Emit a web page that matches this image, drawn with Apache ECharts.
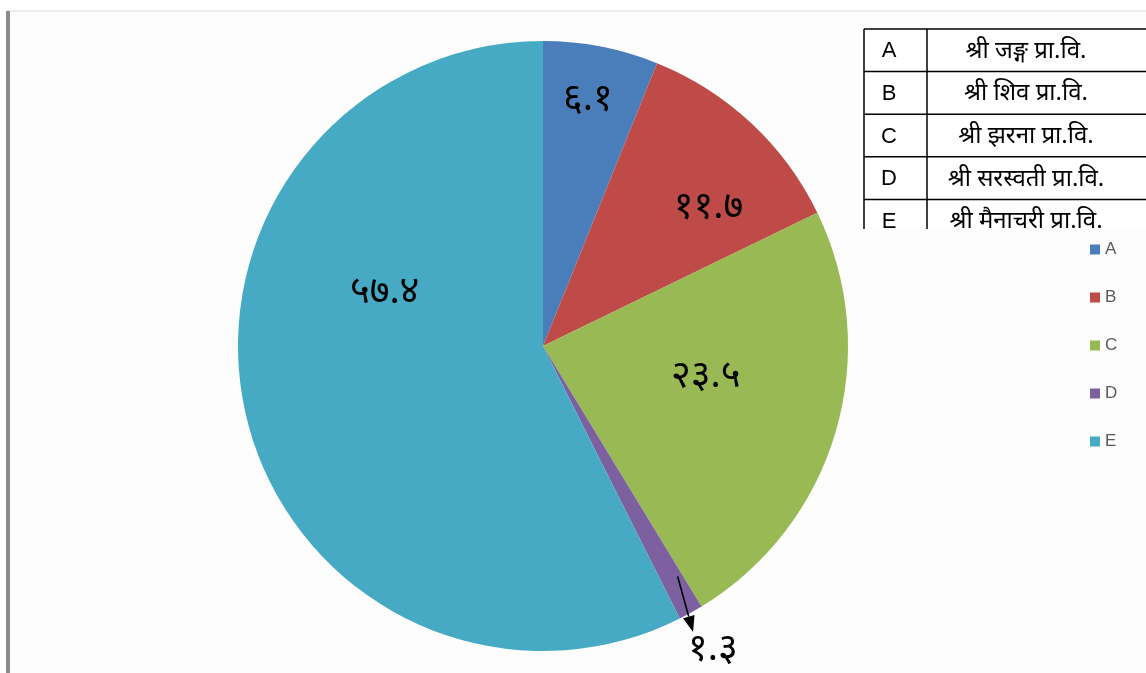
<!DOCTYPE html>
<html>
<head>
<meta charset="utf-8">
<script src="https://cdn.jsdelivr.net/npm/echarts@6/dist/echarts.min.js"></script>
<style>
html,body{margin:0;padding:0;background:#ffffff;}
#chart{width:1146px;height:673px;}
</style>
</head>
<body>
<div id="chart"></div>
<script>
// ---- data ----
var categories = ['A', 'B', 'C', 'D', 'E'];
var values = [6.1, 11.7, 23.5, 1.3, 57.4];
var schoolNames = ['श्री जङ्ग प्रा.वि.', 'श्री शिव प्रा.वि.', 'श्री झरना प्रा.वि.', 'श्री सरस्वती प्रा.वि.', 'श्री मैनाचरी प्रा.वि.'];
var colors = ['#4a7ebb', '#be4b48', '#98b954', '#7d60a0', '#46aac5'];

// ---- helpers ----
var devDigits = '०१२३४५६७८९';
function toDev(v) {
  return String(v).replace(/[0-9]/g, function (d) { return devDigits[+d]; });
}
var devFont = '"Noto Sans Devanagari", "Noto Serif Devanagari", "Lohit Devanagari", "FreeSans", sans-serif';

var CX = 543, CY = 346, R = 305;
// label placement per slice: [angle offset from slice mid (deg), radius fraction]
var labelPlace = [[-0.5, 0.81], [7.8, 0.70], [-4.6, 0.545], [0, 1.15], [31, 0.545]];

var total = values.reduce(function (a, b) { return a + b; }, 0);
var midAngles = [];
(function () {
  var acc = 0;
  values.forEach(function (v) {
    midAngles.push((acc + v / 2) / total * 360);
    acc += v;
  });
})();
function polar(angDeg, r) {
  var a = angDeg * Math.PI / 180;
  return [CX + r * Math.sin(a), CY - r * Math.cos(a)];
}

var chart = echarts.init(document.getElementById('chart'));

var graphics = [];
// frame
graphics.push({ type: 'rect', shape: { x: 7, y: 11, width: 1146, height: 680 }, style: { fill: '#fdfdfd', stroke: '#d9d9d9', lineWidth: 1 }, z: -10 });
graphics.push({ type: 'rect', shape: { x: 6, y: 11, width: 4, height: 662 }, style: { fill: '#8c8c8c' }, z: -9 });

// table
var tX0 = 864, tX1 = 927, tTop = 29, rowH = 42.6, tBottom = 229;
graphics.push({ type: 'rect', shape: { x: tX0, y: tTop, width: 1146 - tX0, height: tBottom - tTop }, style: { fill: '#ffffff' }, z: 5 });
graphics.push({ type: 'line', shape: { x1: tX0, y1: tTop, x2: tX0, y2: tBottom }, style: { stroke: '#000', lineWidth: 1.5 }, z: 6 });
graphics.push({ type: 'line', shape: { x1: tX1, y1: tTop, x2: tX1, y2: tBottom }, style: { stroke: '#000', lineWidth: 1.5 }, z: 6 });
for (var i = 0; i < categories.length; i++) {
  var y = tTop + i * rowH;
  graphics.push({ type: 'line', shape: { x1: tX0, y1: y, x2: 1146, y2: y }, style: { stroke: '#000', lineWidth: 1.5 }, z: 6 });
  graphics.push({ type: 'text', x: 889, y: y + rowH / 2 + 1, style: { text: categories[i], font: '22px "Liberation Sans", Arial, sans-serif', fill: '#000', align: 'center', verticalAlign: 'middle' }, z: 7 });
  graphics.push({ type: 'text', x: 1026, y: y + rowH / 2 + 3, style: { text: schoolNames[i], fontFamily: devFont, fontSize: 24, fontWeight: 'normal', fill: '#000', align: 'center', verticalAlign: 'middle' }, z: 7 });
}

// arrow for the small slice D
var dMid = midAngles[3];
var aStart = polar(dMid - 1.3, 267), aEnd = polar(dMid + 1.3, 323);
var ang = Math.atan2(aEnd[1] - aStart[1], aEnd[0] - aStart[0]);
var hl = 16, hw = 6;
var bx = aEnd[0] - hl * Math.cos(ang), by = aEnd[1] - hl * Math.sin(ang);
graphics.push({ type: 'line', shape: { x1: aStart[0], y1: aStart[1], x2: bx, y2: by }, style: { stroke: '#000', lineWidth: 1.6 }, z: 20 });
graphics.push({ type: 'polygon', shape: { points: [aEnd, [bx + hw * Math.sin(ang), by - hw * Math.cos(ang)], [bx - hw * Math.sin(ang), by + hw * Math.cos(ang)]] }, style: { fill: '#000' }, z: 20 });

chart.setOption({
  animation: false,
  backgroundColor: '#ffffff',
  color: colors,
  graphic: graphics,
  legend: {
    orient: 'vertical',
    left: 1085,
    top: 236,
    itemGap: 31,
    itemWidth: 10,
    itemHeight: 10,
    icon: 'rect',
    data: categories,
    textStyle: { color: '#595959', fontSize: 17, fontFamily: '"Liberation Sans", Arial, sans-serif' }
  },
  series: [{
    type: 'pie',
    center: [CX, CY],
    radius: R,
    startAngle: 90,
    clockwise: true,
    data: categories.map(function (c, i) { return { name: c, value: values[i] }; }),
    itemStyle: { borderWidth: 0 },
    emphasis: { disabled: true },
    label: {
      show: true,
      position: 'inside',
      formatter: function (p) { return toDev(p.value); },
      color: '#000',
      fontFamily: devFont,
      fontSize: 38,
      fontWeight: 'normal'
    },
    labelLine: { show: false },
    labelLayout: function (p) {
      var lp = labelPlace[p.dataIndex];
      var pt = polar(midAngles[p.dataIndex] + lp[0], R * lp[1]);
      return { x: pt[0], y: pt[1], align: 'center', verticalAlign: 'middle' };
    }
  }]
});
</script>
</body>
</html>
